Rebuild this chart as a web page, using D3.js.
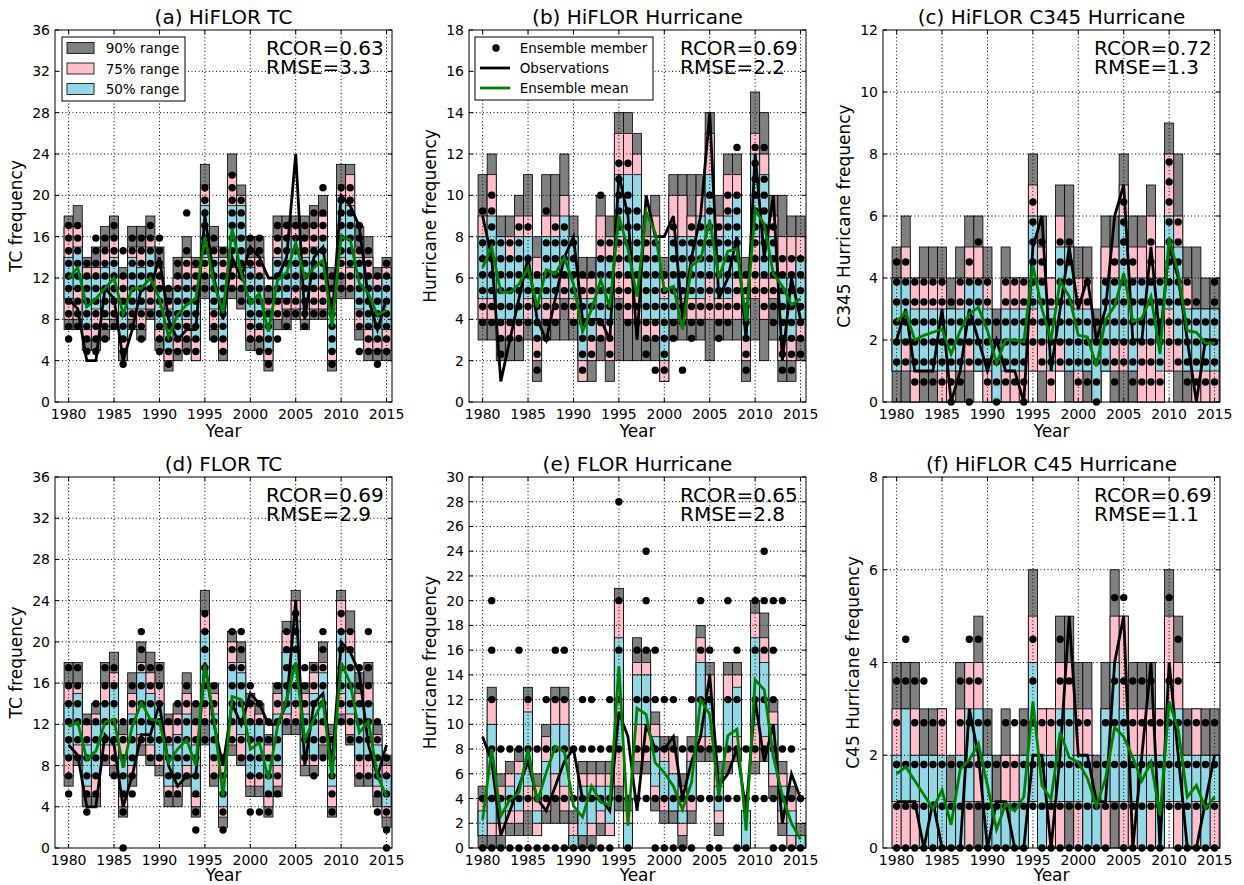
<!doctype html>
<html lang="en">
<head>
<meta charset="UTF-8" />
<title>HiFLOR / FLOR hindcasts</title>
<style>
  body { margin: 0; background: #fff; }
  svg text { font-family: "DejaVu Sans", sans-serif; fill: #000; }
</style>
</head>
<body>
<div id="target"></div>
<script src="https://d3js.org/d3.v7.min.js"></script>
<script>
/* global d3 */

const years = d3.range(1980, 2016);

// observed counts
const obsTC = [10,9,4,4,11,10,4,7,11,11,14,8,6,7,7,18,12,8,14,12,15,14,12,12,14,24,8,14,15,8,20,19,17,10,7,10];
const obsHur = [9,7,1,3,5,7,4,3,5,7,8,4,4,4,3,11,9,3,10,8,8,9,4,7,9,14,5,6,8,3,12,7,10,2,6,4];
const obsC345 = [2,3,1,1,1,3,0,1,3,2,1,2,1,1,0,5,6,1,3,5,3,4,2,3,6,7,2,2,5,2,5,4,2,0,2,2];
const obsC45 = [1,1,1,0,1,0,0,0,3,2,0,1,1,0,0,2,2,0,2,5,2,2,1,1,4,5,0,2,4,0,4,2,0,0,1,2];

// (a) HiFLOR TC
const r90a = [[7,18],[7,19],[5,14],[5,15],[6,17],[7,18],[4,13],[7,17],[6,17],[8,18],[5,15],[3,11],[4,14],[5,16],[4,14],[10,23],[6,17],[4,15],[10,24],[9,21],[5,16],[5,16],[3,11],[7,18],[7,18],[8,18],[7,18],[8,19],[8,20],[3,13],[10,23],[10,23],[6,17],[4,16],[4,13],[4,14]];
const r75a = [[8,17],[8,17],[6,13],[6,13],[7,15],[8,16],[5,12],[8,15],[7,15],[9,16],[6,13],[4,10],[5,12],[6,14],[4,13],[12,21],[7,15],[5,14],[11,22],[11,20],[6,14],[6,14],[4,10],[8,16],[9,17],[9,17],[8,16],[9,17],[9,18],[4,11],[12,21],[11,22],[7,15],[5,14],[5,12],[5,13]];
const r50a = [[10,14],[11,15],[7,12],[9,12],[8,13],[10,14],[6,10],[9,14],[9,13],[11,15],[7,11],[5,9],[6,11],[8,12],[6,11],[14,19],[9,14],[6,12],[13,19],[13,19],[8,13],[7,12],[5,9],[10,14],[10,16],[11,16],[9,14],[11,15],[12,16],[5,9],[14,20],[13,19],[9,14],[7,12],[6,11],[7,12]];
const meanA = [12,13,9.2,10,11,12,8.5,11,11,12,10,6.3,8.5,9.4,10,16,11.5,8.6,16.8,12.5,9.5,10.5,6.8,11.8,12.5,15.4,12,13,13.7,7.3,16,15.7,11.5,10.5,8.4,8.9];
const membersA = [[5,6,7,8,9,10,11,12,13,14],[6,7,8,9,10,11,12,13,14],[4,5,6,7,8,9,10,11],[4,5,6,7,8,9,10,11,12,13],[5,6,7,8,9,10,11,12,13],[6,7,8,9,10,11,12,13,14],[3,4,5,6,7,8,9,10,12],[6,7,8,9,10,11,12,13],[5,6,7,8,9,10,11,12,13],[7,8,9,10,11,12,13,14],[4,5,6,7,8,9,10,11,12,13],[3,4,5,6,7,8,9],[4,5,6,7,8,9,10,11],[4,5,6,7,8,9,10,11,12,15],[4,5,6,7,8,9,10,11],[9,10,11,12,13,14,15,16,17],[5,6,7,8,9,10,11,12,13],[4,5,6,7,8,9,10,11,12],[9,10,11,12,13,14,15,16,17,18],[8,9,10,11,12,13,14,15,16],[5,6,7,8,9,10,11,12,13],[4,5,6,7,8,9,10,11,12,13],[3,4,5,6,7,8,9],[5,7,8,9,10,11,12,13,14],[6,7,8,9,10,11,12,13,14],[7,8,9,10,11,12,13,14],[6,7,8,9,10,11,12,13,14],[7,8,9,10,11,12,13,14,15],[7,8,9,10,11,12,13,14,15,17],[3,4,5,6,7,8,9,10],[9,10,11,12,13,14,15,16,17],[9,10,11,12,13,14,15,16,17],[4,6,7,8,9,10,11,12,13,14],[4,5,6,7,8,9,10,11,12],[3,4,5,6,7,8,9,10],[4,5,6,7,8,9,10,11]];

// (b) HiFLOR Hurricane
const r90b = [[3,11],[3,12],[2,9],[2,9],[2,10],[3,11],[1,8],[3,11],[3,11],[3,12],[3,9],[1,7],[1,7],[2,10],[1,9],[2,14],[2,14],[2,13],[2,9],[2,10],[1,7],[3,11],[3,11],[3,11],[3,11],[2,14],[3,10],[3,12],[3,12],[1,7],[3,15],[2,14],[3,10],[1,10],[1,9],[2,9]];
const r75b = [[4,9],[4,11],[3,8],[3,8],[3,9],[4,9],[2,7],[4,9],[4,9],[5,10],[4,8],[1,6],[2,6],[3,9],[2,8],[5,13],[4,13],[4,12],[3,8],[3,9],[1,6],[4,10],[4,10],[4,9],[4,10],[4,13],[4,9],[4,11],[4,11],[2,6],[5,13],[4,12],[5,9],[2,8],[2,8],[3,8]];
const r50b = [[5,8],[5,9],[4,8],[4,7],[4,8],[5,8],[3,6],[5,8],[5,8],[6,9],[5,8],[2,5],[3,5],[4,7],[4,7],[8,11],[6,11],[6,11],[4,7],[4,8],[2,5],[4,8],[5,8],[5,8],[5,9],[6,11],[5,8],[5,9],[6,10],[3,5],[8,12],[6,11],[6,8],[3,6],[3,6],[4,7]];
const meanB = [6.5,7.5,5.3,5.3,5.7,6.5,4.6,6.4,6.2,7.0,5.7,3.4,4.5,5.9,4.6,9.0,7.4,5.1,9.2,8.2,5.4,5.6,3.5,6.6,6.9,8.8,6.0,7.3,7.4,3.9,9.3,8.6,6.2,5.6,4.7,5.0];
const membersB = [[5,6,7,8,9,10,12],[5,6,7,8,9,10,11,12,13],[3,4,5,6,7,8,9,10],[4,5,6,7,8,9,10],[4,5,6,7,8,9,10,11],[5,6,7,8,9,11],[2,3,4,5,6,7,8],[4,5,6,7,8,9,10,12],[5,6,7,8,9,10,11],[6,7,8,9,10,11],[5,6,7,8,9,10],[2,3,4,5,6,7,8],[3,4,5,6,7,8],[4,5,6,7,8,9,10,13],[3,4,5,6,7,8,9,10],[6,7,8,9,10,11,12,13,14,15],[5,6,7,8,9,10,11,12,13,15],[5,6,7,8,9,10,11,12],[3,4,5,6,7,8,9,10],[2,4,5,6,7,8,9,10],[2,3,4,5,6,7,8],[4,5,6,7,8,9,10,11],[2,5,6,7,8,9,10],[4,5,6,7,8,9,10,11],[5,6,7,8,9,10,11],[6,7,8,9,10,11,12,13],[4,5,6,7,8,9,10,11],[5,6,7,8,9,10,11,12,13],[6,7,8,9,10,11,12,13,16],[2,3,4,5,6,7,8],[7,8,9,10,11,12,13,14,15,16],[6,7,8,9,10,11,12,13,14,16],[5,6,7,8,9,10,11],[2,3,4,5,6,7,8,9],[2,3,4,5,6,7,8,9],[3,4,5,6,7,8,9]];

// (c) HiFLOR C345 Hurricane
const r90c = [[0,5],[0,6],[0,4],[0,5],[0,5],[0,5],[0,4],[0,5],[0,6],[1,6],[0,5],[0,3],[0,5],[0,4],[0,4],[1,8],[0,6],[0,4],[1,7],[0,7],[0,5],[0,5],[0,3],[1,6],[0,6],[0,8],[0,6],[0,6],[0,7],[0,5],[1,9],[0,8],[0,5],[0,5],[0,4],[0,4]];
const r75c = [[1,4],[1,5],[0,4],[1,4],[1,4],[0,4],[0,3],[1,4],[1,5],[1,5],[0,4],[0,2],[0,4],[0,4],[0,4],[1,7],[1,5],[0,4],[1,6],[1,5],[0,4],[1,4],[0,2],[1,5],[1,5],[1,7],[1,5],[0,5],[0,6],[0,5],[1,8],[1,6],[1,4],[0,3],[0,3],[0,3]];
const r50c = [[1,4],[2,4],[1,3],[1,3],[1,3],[1,3],[1,3],[1,3],[2,4],[1,4],[1,3],[0,2],[1,3],[1,3],[1,3],[3,6],[2,4],[1,3],[2,5],[1,5],[1,3],[1,3],[0,2],[1,4],[2,4],[2,6],[1,4],[2,4],[2,4],[1,4],[3,6],[2,5],[1,3],[1,3],[1,3],[1,3]];
const meanC = [2.6,2.9,2.0,2.15,2.25,2.35,1.55,2.3,2.85,3.05,2.3,1.25,2.0,2.0,1.95,4.4,3.0,2.0,3.9,3.4,2.15,2.1,1.15,2.65,3.1,4.15,2.6,2.7,3.4,1.55,5.3,4.15,2.3,2.25,1.9,1.9];
const membersC = [[2,3,4,5,6,7],[2,3,4,5,6,7],[1,2,3,4,5,6],[1,2,3,4,5,6],[1,2,3,4,5,6],[1,2,3,4,5,6],[0,1,2,3,4,5],[1,2,3,4,5,6],[0,2,3,4,5,6,7],[2,3,4,5,6,8],[1,2,3,4,5,6],[0,1,2,3,4],[1,2,3,4,5,6],[1,2,3,4,5,6],[0,1,2,3,4,5,6],[3,4,5,6,7,8,9,10],[2,3,4,5,6,7,8],[1,2,3,4,5],[2,3,4,5,6,7,8],[2,3,4,5,6,7,8],[1,2,3,4,5],[1,2,3,4,5,6],[0,1,2,3,4],[2,3,4,5,6],[1,2,3,4,5,6,7],[2,3,4,5,6,7,8,9,10],[1,2,3,4,5,6,7],[1,2,3,4,5,6],[1,2,3,4,5,6,7,8],[1,2,3,4,5,6],[3,4,5,6,7,8,9,10,11,12],[2,3,4,5,6,7,8,9],[1,2,3,4,5,6],[1,2,3,4,5],[1,2,3,4],[1,2,3,4,5,6]];

// (d) FLOR TC
const r90d = [[6,18],[8,18],[4,13],[4,14],[8,18],[7,19],[3,12],[6,17],[9,20],[8,19],[7,18],[4,13],[4,14],[6,17],[3,14],[10,25],[6,16],[2,9],[9,21],[8,20],[5,15],[5,14],[3,11],[5,16],[11,22],[11,25],[7,16],[7,18],[9,20],[3,12],[12,25],[10,23],[6,17],[6,18],[4,12],[2,9]];
const r75d = [[7,16],[9,16],[5,12],[5,13],[9,16],[8,17],[4,11],[7,15],[10,18],[9,17],[8,16],[5,12],[5,13],[7,15],[4,12],[12,23],[7,15],[3,8],[10,20],[9,18],[6,14],[6,13],[4,10],[6,15],[12,21],[12,24],[8,15],[8,17],[10,18],[4,11],[13,24],[11,21],[7,15],[7,16],[5,11],[3,8]];
const r50d = [[9,14],[10,15],[6,10],[7,12],[10,14],[10,16],[5,9],[8,13],[11,17],[10,15],[9,14],[6,10],[6,11],[8,13],[5,10],[14,21],[9,13],[4,7],[12,18],[11,17],[7,12],[7,12],[5,9],[8,13],[13,19],[14,22],[9,13],[9,15],[12,17],[6,10],[15,21],[13,19],[9,14],[9,14],[6,10],[4,7]];
const meanD = [11.8,12.2,8.6,9.4,12.2,12.5,7.8,11.8,14.1,12.5,12.3,8.3,9.6,10.5,8.0,17.8,12.5,5.0,14.7,14.4,9.6,10.2,6.7,11.8,14.4,18.0,10.5,12.5,14.3,6.8,18.0,16.0,11.2,12.3,7.0,5.0];
const membersD = [[3,4,5,6,7,8,9,10],[5,6,7,8,9,10],[2,3,4,5,6,7],[3,4,5,6,7,8],[5,6,7,8,9,10],[4,5,6,7,8,9,10],[0,2,3,4,5,6,7],[3,4,5,6,7,8,9],[6,7,8,9,10,11,12],[5,6,7,8,9,10],[5,6,7,8,9,10],[3,4,5,6,7],[3,4,5,6,7,8],[4,5,6,7,8,9],[1,2,3,4,5,6,7,8],[6,7,8,9,10,11,12,13],[4,5,6,7,8,9],[1,2,3,4,5],[6,7,8,9,10,11,12],[5,6,7,8,9,10,11,12],[2,4,5,6,7,8,9],[2,4,5,6,7,8],[2,3,4,5,6,7],[3,4,5,6,7,8,9],[7,8,9,10,11,12],[7,8,9,10,11,12,13],[5,6,7,8,9,10],[4,5,6,7,8,9,10],[5,6,7,8,9,10,11,12],[2,3,4,5,6],[7,8,9,10,11,12,13],[6,7,8,9,10,11,12],[4,5,6,7,8,9,10],[4,5,6,7,8,9,10,12],[2,3,4,5,6,7],[0,1,2,3,4,5]];

// (e) FLOR Hurricane
const r90e = [[0,5],[0,13],[0,6],[1,7],[1,8],[1,13],[1,6],[2,10],[2,13],[2,13],[0,3],[0,7],[0,7],[1,7],[1,7],[3,21],[0,4],[6,17],[6,16],[3,11],[2,9],[2,9],[0,6],[2,9],[7,18],[7,15],[1,7],[6,15],[7,15],[0,3],[6,20],[7,19],[4,12],[1,7],[0,5],[0,2]];
const r75e = [[1,4],[1,12],[1,5],[2,6],[2,7],[3,12],[1,5],[3,9],[4,12],[3,12],[0,2],[1,6],[1,6],[2,6],[1,6],[5,20],[0,3],[7,15],[7,15],[4,10],[3,8],[3,8],[1,5],[3,8],[8,17],[8,14],[2,6],[7,14],[8,14],[0,3],[7,19],[8,17],[5,11],[2,6],[0,4],[0,1]];
const r50e = [[1,3],[2,10],[2,4],[3,5],[3,6],[5,11],[2,3],[4,7],[6,10],[5,10],[0,1],[1,5],[2,5],[3,5],[2,5],[8,17],[0,2],[10,14],[10,14],[5,9],[4,7],[3,6],[2,3],[4,7],[9,15],[9,12],[3,5],[8,12],[9,13],[0,3],[10,17],[9,15],[6,10],[3,5],[1,3],[0,1]];
const meanE = [2.3,8.0,2.6,3.9,4.5,8.0,3.7,6.1,8.2,7.8,3.4,2.5,5.0,3.7,3.5,14.7,1.8,11.3,10.8,6.9,6.1,5.0,3.1,5.3,12.0,10.8,4.2,9.1,9.6,1.4,13.6,12.8,7.4,4.2,2.0,0.7];
const membersE = [[0,1],[0,1,2,3,4,5],[0,1,2],[0,1,2],[0,1,2,4],[0,1,2,3],[0,1,2],[0,1,2,3],[0,1,2,3,4],[0,1,2,3,4],[0,1,2],[0,1,2,3],[0,1,2,3],[0,1,2],[0,1,2,3],[1,2,3,4,5,7],[0,1],[1,2,3,4],[1,2,3,4,5,6],[0,1,2,3,4],[0,1,2,3],[0,1,2,3],[0,1,2],[0,1,2,3],[1,2,3,4,5],[0,1,2,3,4],[0,1,2],[1,2,3,5],[0,1,2,3,4],[0,1,2],[1,2,3,4,5],[1,2,3,4,5,6],[0,1,2,3,4,5],[0,1,2,5],[0,1,2],[0,1]];

// (f) HiFLOR C45 Hurricane
const r90f = [[0,4],[0,4],[0,4],[0,3],[0,3],[0,3],[0,2],[0,4],[0,4],[0,5],[0,3],[0,2],[0,3],[0,2],[0,3],[1,6],[0,3],[0,3],[0,5],[0,5],[0,4],[0,4],[0,2],[0,4],[0,6],[0,5],[0,4],[0,4],[0,4],[0,3],[1,6],[0,5],[0,3],[0,3],[0,3],[0,3]];
const r75f = [[0,3],[0,3],[0,3],[0,2],[0,2],[0,3],[0,1],[0,3],[0,4],[1,4],[0,2],[0,1],[0,2],[0,2],[0,2],[1,5],[0,3],[0,3],[0,4],[1,4],[0,3],[0,3],[0,1],[0,3],[1,5],[0,5],[0,3],[0,3],[0,3],[0,3],[1,5],[0,4],[0,2],[0,3],[0,2],[0,2]];
const r50f = [[1,2],[1,3],[1,2],[0,2],[0,2],[0,2],[0,1],[0,2],[1,3],[2,3],[0,2],[0,1],[0,1],[0,1],[0,2],[1,4],[0,2],[1,2],[1,3],[1,3],[1,2],[0,2],[0,1],[1,3],[1,4],[1,3],[1,2],[0,2],[1,2],[0,2],[1,3],[1,3],[0,2],[1,2],[0,2],[1,2]];
const meanF = [1.6,1.75,1.45,1.15,0.85,1.25,0.5,1.7,1.9,2.25,1.35,0.4,0.95,0.8,1.1,3.15,1.35,1.05,2.5,1.95,1.85,1.5,0.9,1.5,2.6,2.4,1.95,1.45,1.85,0.7,3.15,2.55,1.1,1.35,0.85,1.1];
const membersF = [[0,1,2,3,4],[0,1,2,4,5],[0,1,2,3,4],[0,1,2,3,4],[0,1,2,3],[0,1,2,3],[0,1,2],[0,1,2,3,4],[0,1,2,3,4,5],[0,1,2,3,4,5],[0,1,2,3],[0,1,2],[0,1,2,3],[0,1,2,3],[0,1,2,3],[1,2,3,4,5],[0,1,2,3],[0,1,2,3],[0,1,2,3,4,5],[0,1,2,3,4],[0,1,2,3],[0,1,2,3],[0,1,2],[0,1,2,3],[1,2,3,4,6],[0,1,2,3,4,6],[0,1,2,3,4],[0,1,2,3,4],[0,1,2,3,4],[0,1,2,3],[1,2,3,4,6],[0,1,2,3,4,5],[0,1,2,3],[0,1,2,3],[0,1,2,3],[0,1,2,3]];

const panels = [
  { title: "(a) HiFLOR TC", ylabel: "TC frequency", ymax: 36, ystep: 4, unit: 1.22, r90: r90a, r75: r75a, r50: r50a, obs: obsTC, mean: meanA, members: membersA, rcor: "0.63", rmse: "3.3", col: 0, row: 0, legend: "ranges" },
  { title: "(b) HiFLOR Hurricane", ylabel: "Hurricane frequency", ymax: 18, ystep: 2, unit: 0.77, r90: r90b, r75: r75b, r50: r50b, obs: obsHur, mean: meanB, members: membersB, rcor: "0.69", rmse: "2.2", col: 1, row: 0, legend: "lines" },
  { title: "(c) HiFLOR C345 Hurricane", ylabel: "C345 Hurricane frequency", ymax: 12, ystep: 2, unit: 0.645, r90: r90c, r75: r75c, r50: r50c, obs: obsC345, mean: meanC, members: membersC, rcor: "0.72", rmse: "1.3", col: 2, row: 0 },
  { title: "(d) FLOR TC", ylabel: "TC frequency", ymax: 36, ystep: 4, unit: 1.75, r90: r90d, r75: r75d, r50: r50d, obs: obsTC, mean: meanD, members: membersD, rcor: "0.69", rmse: "2.9", col: 0, row: 1 },
  { title: "(e) FLOR Hurricane", ylabel: "Hurricane frequency", ymax: 30, ystep: 2, unit: 4, r90: r90e, r75: r75e, r50: r50e, obs: obsHur, mean: meanE, members: membersE, rcor: "0.65", rmse: "2.8", col: 1, row: 1 },
  { title: "(f) HiFLOR C45 Hurricane", ylabel: "C45 Hurricane frequency", ymax: 8, ystep: 2, unit: 0.9, r90: r90f, r75: r75f, r50: r50f, obs: obsC45, mean: meanF, members: membersF, rcor: "0.69", rmse: "1.1", col: 2, row: 1 }
];

const GRAY = "#808080", PINK = "#ffc0cb", BLUE = "#94d8e5", GREEN = "#008000";

const width = 1244, height = 885;
const colX = [55, 469, 883], rowY = [30, 477], pw = 337, ph = [372, 371];

const svg = d3.select("#target").append("svg")
  .attr("width", width).attr("height", height)
  .attr("viewBox", [0, 0, width, height]);

panels.forEach(p => {
  const x0 = colX[p.col], y0 = rowY[p.row], h = ph[p.row];
  const g = svg.append("g").attr("transform", `translate(${x0},${y0})`);

  const x = d3.scaleLinear().domain([1978.5, 2015.6]).range([0, pw]);
  const y = d3.scaleLinear().domain([0, p.ymax]).range([h, 0]);

  // floating range boxes, widest first
  [[p.r90, GRAY], [p.r75, PINK], [p.r50, BLUE]].forEach(([rng, fill]) => {
    const rows = years.map((yr, i) => ({ yr, lo: rng[i][0], hi: rng[i][1] }));
    g.append("g").selectAll("rect").data(rows).join("rect")
      .attr("x", d => x(d.yr - 0.5))
      .attr("width", d => x(d.yr + 0.5) - x(d.yr - 0.5))
      .attr("y", d => y(d.hi))
      .attr("height", d => y(d.lo) - y(d.hi))
      .attr("fill", fill)
      .attr("stroke", "#000")
      .attr("stroke-width", 0.8);
  });

  // dotted grid
  const xt = d3.range(1980, 2016, 5);
  const yt = d3.range(0, p.ymax + 0.001, p.ystep);
  const grid = g.append("g").attr("stroke", "#000").attr("stroke-width", 1)
    .attr("stroke-dasharray", "1,2.5");
  grid.selectAll(".gx").data(xt).join("line")
    .attr("x1", d => x(d)).attr("x2", d => x(d)).attr("y1", 0).attr("y2", h);
  grid.selectAll(".gy").data(yt.filter(v => v > 0 && v < p.ymax)).join("line")
    .attr("x1", 0).attr("x2", pw).attr("y1", d => y(d)).attr("y2", d => y(d));

  // ensemble members
  const pts = [];
  years.forEach((yr, i) => p.members[i].forEach(k => pts.push({ yr, v: k * p.unit })));
  g.append("g").selectAll("circle").data(pts).join("circle")
    .attr("cx", d => x(d.yr)).attr("cy", d => y(d.v)).attr("r", 3.7).attr("fill", "#000");

  const line = d3.line().x((d, i) => x(years[i])).y(d => y(d));
  g.append("path").datum(p.obs).attr("d", line)
    .attr("fill", "none").attr("stroke", "#000").attr("stroke-width", 2.8);
  g.append("path").datum(p.mean).attr("d", line)
    .attr("fill", "none").attr("stroke", GREEN).attr("stroke-width", 2.8);

  // frame
  g.append("rect").attr("width", pw).attr("height", h)
    .attr("fill", "none").attr("stroke", "#000").attr("stroke-width", 1);

  // inward ticks
  const tk = g.append("g").attr("stroke", "#000").attr("stroke-width", 1);
  xt.forEach(v => {
    tk.append("line").attr("x1", x(v)).attr("x2", x(v)).attr("y1", h).attr("y2", h - 4);
    tk.append("line").attr("x1", x(v)).attr("x2", x(v)).attr("y1", 0).attr("y2", 4);
  });
  yt.forEach(v => {
    tk.append("line").attr("x1", 0).attr("x2", 4).attr("y1", y(v)).attr("y2", y(v));
    tk.append("line").attr("x1", pw).attr("x2", pw - 4).attr("y1", y(v)).attr("y2", y(v));
  });

  // tick labels
  g.append("g").selectAll("text").data(xt).join("text")
    .attr("x", d => x(d)).attr("y", h + 17)
    .attr("text-anchor", "middle").style("font-size", "14px").text(d => d);
  const yl = g.append("g").selectAll("text").data(yt).join("text")
    .attr("x", -5).attr("y", d => y(d) + 5)
    .attr("text-anchor", "end").style("font-size", "14px").text(d => d);
  let maxW = 0;
  yl.each(function () { maxW = Math.max(maxW, this.getComputedTextLength()); });

  // axis labels and title
  g.append("text").attr("x", pw / 2).attr("y", p.row === 0 ? h + 35 : h + 33)
    .attr("text-anchor", "middle").style("font-size", "17px").text("Year");
  g.append("text")
    .attr("transform", `translate(${-5 - maxW - 10},${h / 2}) rotate(-90)`)
    .attr("text-anchor", "middle").style("font-size", "17px").text(p.ylabel);
  g.append("text").attr("x", pw / 2).attr("y", -6)
    .attr("text-anchor", "middle").style("font-size", "20px").text(p.title);

  const note = g.append("text").attr("x", 211).attr("y", 25).style("font-size", "20px");
  note.append("tspan").attr("x", 211).text("RCOR=" + p.rcor);
  note.append("tspan").attr("x", 211).attr("dy", 18.5).text("RMSE=" + p.rmse);

  // legends
  if (p.legend === "ranges") {
    const lg = g.append("g").attr("transform", "translate(7,7)");
    lg.append("rect").attr("width", 123).attr("height", 64)
      .attr("fill", "#fff").attr("stroke", "#000").attr("stroke-width", 1);
    [["90% range", GRAY], ["75% range", PINK], ["50% range", BLUE]].forEach(([t, c], i) => {
      const cy = 11 + i * 20.5;
      lg.append("rect").attr("x", 5).attr("y", cy - 5.5).attr("width", 27).attr("height", 11)
        .attr("fill", c).attr("stroke", "#000").attr("stroke-width", 0.8);
      lg.append("text").attr("x", 43.7).attr("y", cy + 5).style("font-size", "13.5px").text(t);
    });
  } else if (p.legend === "lines") {
    const lg = g.append("g").attr("transform", "translate(6,7)");
    lg.append("rect").attr("width", 178).attr("height", 63)
      .attr("fill", "#fff").attr("stroke", "#000").attr("stroke-width", 1);
    lg.append("circle").attr("cx", 21).attr("cy", 11).attr("r", 3.7).attr("fill", "#000");
    lg.append("line").attr("x1", 5).attr("x2", 35).attr("y1", 31).attr("y2", 31)
      .attr("stroke", "#000").attr("stroke-width", 2.8);
    lg.append("line").attr("x1", 5).attr("x2", 35).attr("y1", 51).attr("y2", 51)
      .attr("stroke", GREEN).attr("stroke-width", 2.8);
    ["Ensemble member", "Observations", "Ensemble mean"].forEach((t, i) => {
      lg.append("text").attr("x", 44.7).attr("y", 16 + i * 20).style("font-size", "13.5px").text(t);
    });
  }
});
</script>
</body>
</html>
